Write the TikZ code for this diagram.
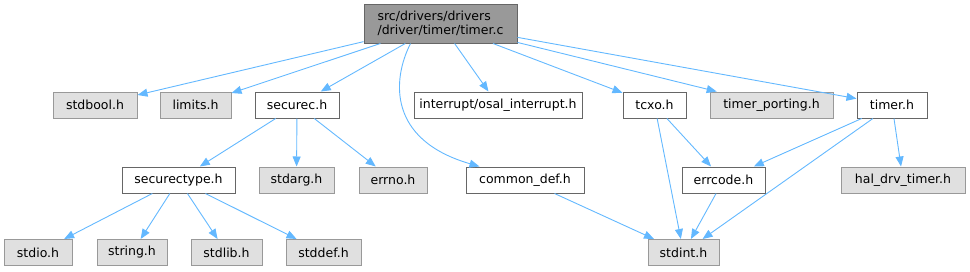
\documentclass[tikz,border=0pt]{standalone}
\usepackage{fontspec}
\setmainfont{DejaVu Sans}
\usepackage{tikz}
\usetikzlibrary{
    arrows.meta,
    positioning
}
\definecolor{edgeblue}{HTML}{63B8FF}
\definecolor{sysfill}{HTML}{E0E0E0}
\definecolor{sysline}{HTML}{999999}
\definecolor{usrline}{HTML}{666666}
\definecolor{mainfill}{HTML}{999999}

\begin{document}
\begin{tikzpicture}[x=1pt, y=-1pt,
    hfile/.style={draw=usrline, fill=white, line width=1pt, minimum height=26pt,
        inner sep=0pt, font=\fontsize{12.5}{14}\selectfont},
    sysfile/.style={hfile, draw=sysline, fill=sysfill},
    mainfile/.style={hfile, fill=mainfill, minimum height=39pt, align=left},
    incl/.style={draw=edgeblue, line width=0.9pt,
        -{Triangle[length=10pt,width=8pt]}}
]

% page frame
\useasboundingbox (0,0) rectangle (970,271);

% Source file
\node[mainfile, minimum width=153pt] (main) at (440.5,23.5)
    {src/drivers/drivers\\/driver/timer/timer.c};

% Row 1 ── direct includes
\node[sysfile, minimum width=84pt]  (stdbool)  at (95,105)    {stdbool.h};
\node[sysfile, minimum width=71pt]  (limits)   at (195.5,105) {limits.h};
\node[hfile,   minimum width=84pt]  (securec)  at (297,105)   {securec.h};
\node[hfile,   minimum width=168pt] (osalint)  at (498,105)   {interrupt/osal\_interrupt.h};
\node[hfile,   minimum width=63pt]  (tcxo)     at (654.5,105) {tcxo.h};
\node[sysfile, minimum width=123pt] (porting)  at (771.5,105) {timer\_porting.h};
\node[hfile,   minimum width=70pt]  (timerh)   at (892,105)   {timer.h};

% Row 2
\node[hfile,   minimum width=113pt] (sectype)  at (178.5,180) {securectype.h};
\node[sysfile, minimum width=75pt]  (stdarg)   at (296.5,180) {stdarg.h};
\node[sysfile, minimum width=68pt]  (errno)    at (393,180)   {errno.h};
\node[hfile,   minimum width=118pt] (comdef)   at (525,180)   {common\_def.h};
\node[hfile,   minimum width=83pt]  (errcode)  at (723.5,180) {errcode.h};
\node[sysfile, minimum width=124pt] (haldrv)   at (903,180)   {hal\_drv\_timer.h};

% Row 3
\node[sysfile, minimum width=68pt]  (stdio)    at (38,252.5)    {stdio.h};
\node[sysfile, minimum width=70pt]  (string)   at (132,252.5)   {string.h};
\node[sysfile, minimum width=71pt]  (stdlib)   at (226.5,252.5) {stdlib.h};
\node[sysfile, minimum width=75pt]  (stddef)   at (323.5,252.5) {stddef.h};
\node[sysfile, minimum width=71pt]  (stdint)   at (683.5,252.5) {stdint.h};

% Include edges from timer.c
\draw[incl] (main) -- (stdbool);
\draw[incl] (main) -- (limits);
\draw[incl] (main) -- (securec);
\draw[incl] ([xshift=-30pt]main.south) .. controls (392,80) and (388,140) .. ([xshift=14pt]comdef.north west);
\draw[incl] (main) -- (osalint);
\draw[incl] (main) -- (tcxo);
\draw[incl] (main) -- (porting);
\draw[incl] (main) -- (timerh);

% securec.h
\draw[incl] (securec) -- (sectype);
\draw[incl] (securec) -- (stdarg);
\draw[incl] (securec) -- (errno);

% securectype.h
\draw[incl] (sectype) -- (stdio);
\draw[incl] (sectype) -- (string);
\draw[incl] (sectype) -- (stdlib);
\draw[incl] (sectype) -- (stddef);

% the rest
\draw[incl] (comdef) -- (stdint);
\draw[incl] (tcxo) -- (errcode);
\draw[incl] (tcxo) -- (stdint);
\draw[incl] (timerh) -- (errcode);
\draw[incl] (timerh) -- (haldrv);
\draw[incl] (timerh) -- (stdint);
\draw[incl] (errcode) -- (stdint);

\end{tikzpicture}
\end{document}
